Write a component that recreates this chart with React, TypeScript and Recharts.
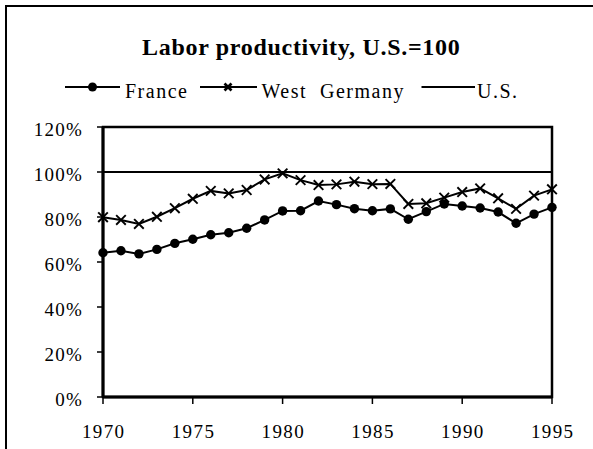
import { LineChart, Line, XAxis, YAxis, ReferenceArea } from "recharts";

const years = [
  1970, 1971, 1972, 1973, 1974, 1975, 1976, 1977, 1978, 1979, 1980, 1981, 1982,
  1983, 1984, 1985, 1986, 1987, 1988, 1989, 1990, 1991, 1992, 1993, 1994, 1995,
];
const france = [
  64.1, 65.0, 63.6, 65.6, 68.3, 70.1, 72.1, 73.0, 75.0, 78.7, 82.7, 82.8, 87.1,
  85.5, 83.7, 82.8, 83.6, 79.0, 82.4, 85.8, 84.9, 84.0, 82.2, 77.2, 81.3, 84.3,
];
const westGermany = [
  79.9, 78.7, 76.9, 80.1, 83.9, 88.1, 91.6, 90.5, 92.0, 96.7, 99.4, 96.4, 94.2,
  94.5, 95.7, 94.6, 94.7, 85.8, 86.1, 88.6, 91.1, 92.7, 88.3, 83.6, 89.5, 92.3,
];
const us = [
  100, 100, 100, 100, 100, 100, 100, 100, 100, 100, 100, 100, 100,
  100, 100, 100, 100, 100, 100, 100, 100, 100, 100, 100, 100, 100,
];
const yTicks = [0, 20, 40, 60, 80, 100, 120];
const xTicks = [1970, 1975, 1980, 1985, 1990, 1995];

const FONT = '"Liberation Serif", "Times New Roman", serif';

const data = years.map((year, i) => ({
  year,
  france: france[i],
  westGermany: westGermany[i],
  us: us[i],
}));

const CrossDot = (props: any) => {
  const { cx, cy } = props;
  if (cx == null || cy == null) return null;
  const s = 4.8;
  return (
    <g stroke="#000" strokeWidth={1.9}>
      <line x1={cx - s} y1={cy - s} x2={cx + s} y2={cy + s} />
      <line x1={cx - s} y1={cy + s} x2={cx + s} y2={cy - s} />
    </g>
  );
};

const YTick = (props: any) => {
  const { x, y, payload } = props;
  return (
    <text
      x={x}
      y={y + 9}
      textAnchor="end"
      fontFamily={FONT}
      fontSize={19}
      fill="#000"
      style={{ letterSpacing: "1.2px" }}
    >
      {`${payload.value}%`}
    </text>
  );
};

const XTick = (props: any) => {
  const { x, y, payload } = props;
  return (
    <text
      x={x + 0.7}
      y={y + 32}
      textAnchor="middle"
      fontFamily={FONT}
      fontSize={19}
      fill="#000"
      style={{ letterSpacing: "1.4px" }}
    >
      {payload.value}
    </text>
  );
};

export default function App() {
  return (
    <div style={{ position: "absolute", left: 0, top: 0, width: 593, height: 449, background: "#fff", overflow: "hidden" }}>
      <LineChart
        width={593}
        height={449}
        data={data}
        margin={{ top: 127, right: 41, bottom: 22, left: 43 }}
      >
        <XAxis
          dataKey="year"
          type="number"
          domain={[1970, 1995]}
          ticks={xTicks}
          height={30}
          tickSize={7}
          tickMargin={2}
          axisLine={{ stroke: "#000", strokeWidth: 3 }}
          tickLine={{ stroke: "#000", strokeWidth: 1.5 }}
          tick={<XTick />}
        />
        <YAxis
          type="number"
          domain={[0, 120]}
          ticks={yTicks}
          width={60}
          tickSize={6}
          tickMargin={14}
          axisLine={{ stroke: "#000", strokeWidth: 3 }}
          tickLine={{ stroke: "#000", strokeWidth: 1.5 }}
          tick={<YTick />}
        />
        <ReferenceArea
          x1={1970}
          x2={1995}
          y1={0}
          y2={120}
          fill="none"
          stroke="#000"
          strokeWidth={2.5}
          fillOpacity={0}
          ifOverflow="visible"
        />
        <Line
          dataKey="us"
          stroke="#000"
          strokeWidth={2}
          dot={false}
          isAnimationActive={false}
        />
        <Line
          dataKey="westGermany"
          stroke="#000"
          strokeWidth={2}
          dot={<CrossDot />}
          isAnimationActive={false}
        />
        <Line
          dataKey="france"
          stroke="#000"
          strokeWidth={2}
          dot={{ r: 4.7, fill: "#000", stroke: "#000", strokeWidth: 0 }}
          isAnimationActive={false}
        />
      </LineChart>
      <svg
        width={593}
        height={449}
        style={{ position: "absolute", left: 0, top: 0, pointerEvents: "none" }}
      >
        {/* outer chart frame, only top and left edges are visible */}
        <line x1={5} y1={6} x2={593} y2={6} stroke="#000" strokeWidth={2} />
        <line x1={6} y1={5} x2={6} y2={449} stroke="#000" strokeWidth={2} />
        <text
          x={142}
          y={55}
          fontFamily={FONT}
          fontWeight="bold"
          fontSize={24}
          fill="#000"
          style={{ letterSpacing: "0.7px" }}
        >
          Labor productivity, U.S.=100
        </text>
        <g stroke="#000" strokeWidth={2}>
          <line x1={65} y1={87} x2={120} y2={87} />
          <line x1={200} y1={87} x2={257} y2={87} />
          <line x1={421.5} y1={87} x2={475} y2={87} />
          <line x1={224.5} y1={83.5} x2={231.5} y2={90.5} strokeWidth={2.6} />
          <line x1={224.5} y1={90.5} x2={231.5} y2={83.5} strokeWidth={2.6} />
        </g>
        <circle cx={92.5} cy={87} r={4.5} fill="#000" />
        <g fontFamily={FONT} fontSize={20} fill="#000" style={{ letterSpacing: "1.5px" }}>
          <text x={125} y={98}>France</text>
          <text x={261.5} y={98} style={{ whiteSpace: "pre" }}>West  Germany</text>
          <text x={477} y={98}>U.S.</text>
        </g>
      </svg>
    </div>
  );
}
